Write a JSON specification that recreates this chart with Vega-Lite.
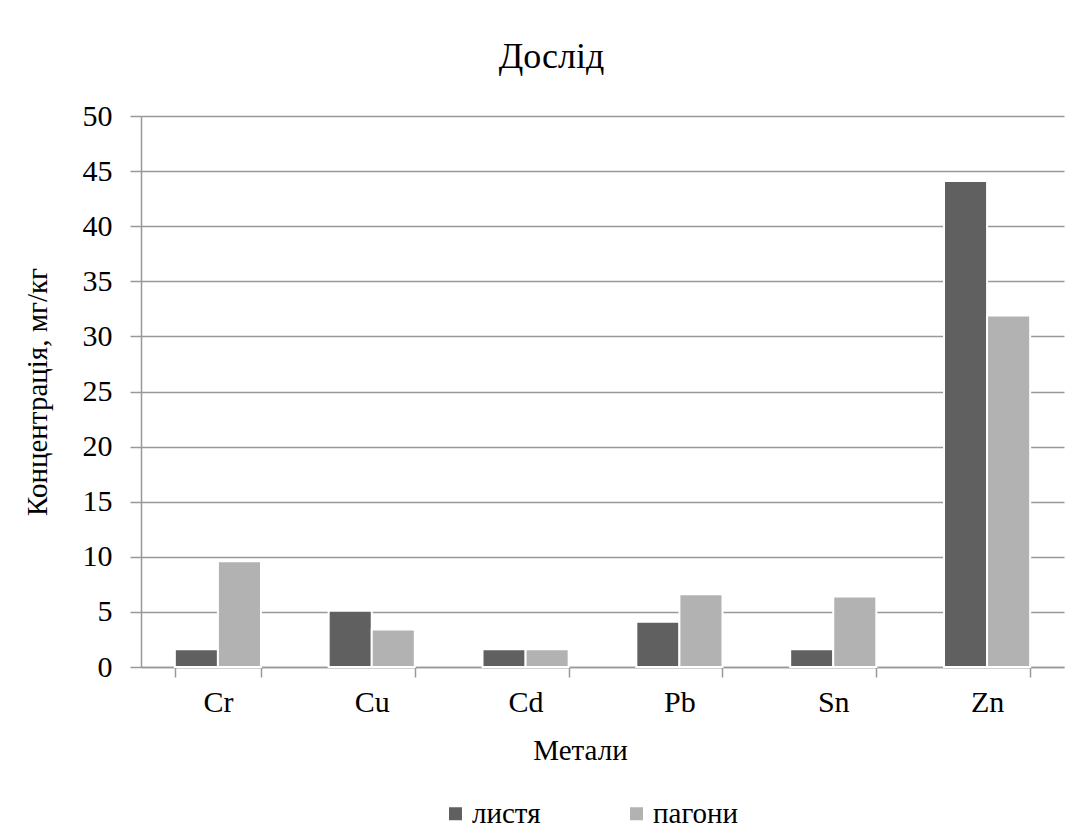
{
  "$schema": "https://vega.github.io/schema/vega-lite/v6.json",
  "autosize": "none",
  "width": 923,
  "height": 551,
  "padding": {"left": 141, "top": 116, "right": 21, "bottom": 169},
  "background": "white",
  "title": {
    "text": "Дослід",
    "font": "Liberation Serif",
    "fontSize": 36,
    "fontWeight": "normal",
    "color": "black",
    "anchor": "middle",
    "dx": -51,
    "offset": 25
  },
  "data": {
    "values": [
      {"metal": "Cr", "part": "листя", "value": 1.6},
      {"metal": "Cr", "part": "пагони", "value": 9.6},
      {"metal": "Cu", "part": "листя", "value": 5.1},
      {"metal": "Cu", "part": "пагони", "value": 3.4},
      {"metal": "Cd", "part": "листя", "value": 1.6},
      {"metal": "Cd", "part": "пагони", "value": 1.6},
      {"metal": "Pb", "part": "листя", "value": 4.1},
      {"metal": "Pb", "part": "пагони", "value": 6.6},
      {"metal": "Sn", "part": "листя", "value": 1.6},
      {"metal": "Sn", "part": "пагони", "value": 6.4},
      {"metal": "Zn", "part": "листя", "value": 44.1},
      {"metal": "Zn", "part": "пагони", "value": 31.9}
    ]
  },
  "mark": {"type": "bar", "stroke": "white", "strokeWidth": 2},
  "encoding": {
    "x": {
      "field": "metal",
      "type": "nominal",
      "sort": ["Cr", "Cu", "Cd", "Pb", "Sn", "Zn"],
      "scale": {"paddingInner": 0.44, "paddingOuter": 0.22},
      "axis": {
        "title": "Метали",
        "labelAngle": 0,
        "tickBand": "extent",
        "tickSize": 10,
        "labelPadding": 10,
        "titlePadding": 19,
        "titleX": 439
      }
    },
    "xOffset": {"field": "part", "type": "nominal", "sort": ["листя", "пагони"]},
    "y": {
      "field": "value",
      "type": "quantitative",
      "scale": {"domain": [0, 50], "nice": false},
      "axis": {
        "title": "Концентрація, мг/кг",
        "values": [0, 5, 10, 15, 20, 25, 30, 35, 40, 45, 50],
        "tickSize": 11,
        "labelPadding": 18,
        "titlePadding": 30,
        "grid": true
      }
    },
    "color": {
      "field": "part",
      "type": "nominal",
      "sort": ["листя", "пагони"],
      "scale": {"domain": ["листя", "пагони"], "range": ["#606060", "#b2b2b2"]},
      "legend": {
        "title": null,
        "orient": "none",
        "direction": "horizontal",
        "legendX": 300,
        "legendY": 683,
        "symbolType": "square",
        "symbolSize": 169,
        "symbolStrokeWidth": 0,
        "labelOffset": 2,
        "columnPadding": 81
      }
    }
  },
  "config": {
    "font": "Liberation Serif",
    "view": {"stroke": null},
    "axis": {
      "labelFont": "Liberation Serif",
      "titleFont": "Liberation Serif",
      "labelFontSize": 30,
      "titleFontSize": 29,
      "titleFontWeight": "normal",
      "labelColor": "black",
      "titleColor": "black",
      "domainColor": "#999999",
      "tickColor": "#999999",
      "gridColor": "#999999",
      "domainWidth": 1.5,
      "tickWidth": 1.5,
      "gridWidth": 1.5
    },
    "axisX": {"grid": false},
    "legend": {
      "labelFont": "Liberation Serif",
      "labelFontSize": 29,
      "labelColor": "black",
      "symbolFillColor": "#606060"
    }
  }
}
